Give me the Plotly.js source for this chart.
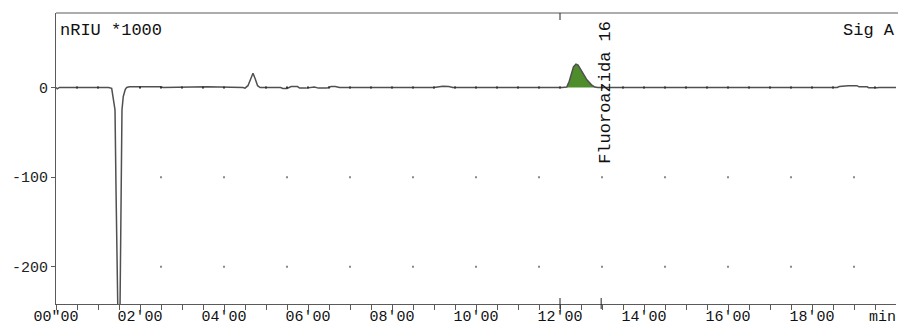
<!DOCTYPE html>
<html>
<head>
<meta charset="utf-8">
<script src="https://cdn.plot.ly/plotly-3.0.1.min.js"></script>
<style>html,body{margin:0;padding:0;background:#fff;}#chart{width:898px;height:326px;}</style>
</head>
<body>
<div id="chart"></div>
<script>
// Retention time (min) and signal (nRIU *1000)
var timeMin = [0, 0.03, 0.08, 1.25, 1.326, 1.364, 1.405, 1.43, 1.465, 1.495, 1.525, 1.55, 1.571, 1.602, 1.65, 1.683, 1.75, 2.5, 2.55,
  3.6, 3.7, 3.75, 4.45, 4.5, 4.57, 4.64, 4.69, 4.74, 4.8, 4.86, 5.35, 5.4, 5.5, 5.6, 5.75, 5.8, 5.95, 6.15, 6.25, 6.45, 6.55, 6.65, 6.75,
  9.0, 9.1, 9.21, 9.35, 9.45, 12.05, 12.1, 12.16, 12.22, 12.28, 12.32, 12.38, 12.43, 12.52, 12.64, 12.75, 12.83, 12.9,
  18.6, 18.65, 18.86, 19.07, 19.12, 19.31, 19.35, 19.55, 19.6, 20];
var signal = [0, -1.5, 0, 0, -1, -14, -25, -117, -241, -320, -241, -117, -25, -10, -2, 0, 0.8, 0.8, 0,
  0.7, 0.7, 0, 0, -0.7, 2, 10, 15.8, 10, 2, 0, 0, -1, -1, 1, 1, -0.7, -0.7, 0.5, -0.7, -0.7, 1, 1, 0,
  0, 1, 1.5, 1, 0, 0, 0.5, 0.5, 7, 16, 23, 26, 25, 18, 8.5, 3, 0.5, 0,
  0, 1, 2, 2, 0.7, 0.7, -0.3, -0.3, 0, 0];

// Integrated peak (Fluoroazida 16)
var peakTime = [12.16, 12.22, 12.28, 12.32, 12.38, 12.43, 12.52, 12.64, 12.75, 12.83];
var peakSignal = [0.5, 7, 16, 23, 26, 25, 18, 8.5, 3, 0.5];
var peakName = 'Fluoroazida 16';
var peakLabelTime = 13.08;
var peakMarkers = [12.0, 12.98];

// Axis labels
var xLabelTimes = [0, 2, 4, 6, 8, 10, 12, 14, 16, 18];
var xTickLabels = ['00"00', "02'00", "04'00", "06'00", "08'00", "10'00", "12'00", "14'00", "16'00", "18'00"];
var yTicks = [0, -100, -200];
var yTickLabels = ['0', '-100', '-200'];

// Background dot grid
var gridDotTimes = [2.5, 4, 5.5, 7, 8.5, 10, 11.5, 13, 14.5, 16, 17.5, 19];
var gridDotLevels = [-100, -200];
var zeroDotTimes = [0.5, 1, 2, 2.5, 3, 3.5, 4, 5, 5.5, 6, 6.5, 7, 7.5, 8, 8.5, 9, 9.5, 10, 10.5, 11, 11.5, 12, 13, 13.5, 14, 14.5, 15, 15.5, 16, 16.5, 17, 17.5, 18, 18.5, 19.5];

var axisColor = '#5a5a5a';
var monoFamily = 'Liberation Mono, Courier New, monospace';
var monoFont = {family: monoFamily, size: 15, color: '#111'};

var gx = [], gy = [];
gridDotLevels.forEach(function (lv) { gridDotTimes.forEach(function (t) { gx.push(t); gy.push(lv); }); });

var minorVals = [], tickText = [];
for (var i = 0; i < 40; i++) {
  var v = i * 0.5; minorVals.push(v);
  var k = xLabelTimes.indexOf(v);
  tickText.push(k >= 0 ? xTickLabels[k] : '');
}

var traces = [
  {x: gx, y: gy, type: 'scatter', mode: 'markers', marker: {symbol: 'square', size: 2, color: '#8a8a8a'}, hoverinfo: 'skip'},
  {x: peakTime, y: peakSignal, type: 'scatter', mode: 'lines', fill: 'tozeroy', fillcolor: '#4f8d2c', line: {width: 0, color: '#4f8d2c'}, hoverinfo: 'skip'},
  {x: timeMin, y: signal, type: 'scatter', mode: 'lines', line: {color: '#505050', width: 1.5}},
  {x: zeroDotTimes, y: zeroDotTimes.map(function () { return 0; }), type: 'scatter', mode: 'markers', marker: {symbol: 'square', size: 2, color: '#333'}, hoverinfo: 'skip'}
];

var shapes = [
  {type: 'line', xref: 'paper', yref: 'paper', x0: 0, x1: 1.003, y0: 1, y1: 1, line: {color: axisColor, width: 1}}
];
shapes.push({type: 'line', xref: 'x', yref: 'paper', x0: peakMarkers[0], x1: peakMarkers[0], y0: 1, y1: 1 - 7 / 291, line: {color: '#222', width: 1}});
peakMarkers.forEach(function (t) {
  shapes.push({type: 'line', xref: 'x', yref: 'paper', x0: t, x1: t, y0: -5 / 291, y1: 6 / 291, line: {color: '#222', width: 1}});
});

var layout = {
  width: 898, height: 326,
  margin: {l: 56, r: 2, t: 13, b: 22, pad: 0},
  paper_bgcolor: '#fff', plot_bgcolor: '#fff',
  showlegend: false,
  xaxis: {
    range: [0, 20], tickmode: 'array', tickvals: minorVals, ticktext: tickText,
    ticks: 'outside', ticklen: 5, tickwidth: 1, tickcolor: axisColor,
    showline: true, linecolor: axisColor, linewidth: 1, showgrid: false, zeroline: false,
    tickfont: monoFont, ticklabelstandoff: -7, fixedrange: true
  },
  yaxis: {
    range: [-241.4, 83.05], tickmode: 'array', tickvals: yTicks, ticktext: yTickLabels,
    ticks: 'outside', ticklen: 4, tickwidth: 1, tickcolor: axisColor,
    showline: true, linecolor: axisColor, linewidth: 1, showgrid: false, zeroline: false,
    tickfont: {family: monoFamily, size: 15, color: '#222'}, fixedrange: true
  },
  shapes: shapes,
  annotations: [
    {text: 'nRIU *1000', xref: 'paper', yref: 'paper', x: 0, y: 1, xanchor: 'left', yanchor: 'top', xshift: 2, yshift: -6, showarrow: false, font: {family: monoFamily, size: 17, color: '#111'}},
    {text: 'Sig A', xref: 'paper', yref: 'paper', x: 1, y: 1, xanchor: 'right', yanchor: 'top', xshift: 1, yshift: -6, showarrow: false, font: {family: monoFamily, size: 17, color: '#111'}},
    {text: 'min', xref: 'paper', yref: 'paper', x: 1, y: 0, xanchor: 'right', yanchor: 'top', xshift: 2, yshift: -3, showarrow: false, font: monoFont},
    {text: peakName, xref: 'x', yref: 'y', x: peakLabelTime, y: -5.6, xanchor: 'center', yanchor: 'middle', textangle: -90, showarrow: false, font: {family: monoFamily, size: 17, color: '#111'}}
  ]
};

Plotly.newPlot('chart', traces, layout, {displayModeBar: false, staticPlot: true});
</script>
</body>
</html>
